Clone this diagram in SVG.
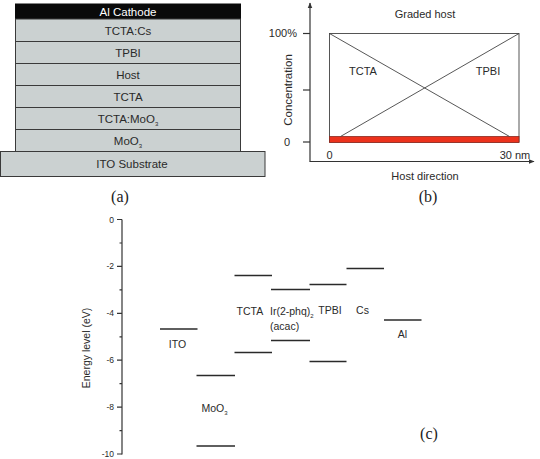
<svg xmlns="http://www.w3.org/2000/svg" width="540" height="459" viewBox="0 0 540 459">
<style>
text{font-family:"Liberation Sans",Arial,sans-serif;fill:#2a2a2a}
.lay{fill:#cbd1d1;stroke:#3a3a3a;stroke-width:1}
.lt{font-size:11.5px;text-anchor:middle}
.cap{font-family:"Liberation Serif","Times New Roman",serif;font-size:16px;text-anchor:middle;fill:#222}
.ax{stroke:#333;stroke-width:1.2;fill:none}
.thin{stroke:#444;stroke-width:0.9;fill:none}
.bt{font-size:11px}
.lvl{stroke:#2a2a2a;stroke-width:1.6}
.el{font-size:10.5px}
.tk{font-size:8.5px;text-anchor:end}
.sub{font-size:6px}
</style>
<defs>
<marker id="arr" viewBox="0 0 10 10" refX="9" refY="5" markerWidth="6" markerHeight="6" orient="auto" markerUnits="userSpaceOnUse">
<path d="M0,1 L10,5 L0,9 z" fill="#333"/>
</marker>
</defs>
<rect width="540" height="459" fill="#ffffff"/>

<!-- (a) device stack -->
<g id="al-cathode"><rect x="15.5" y="4" width="225" height="15" fill="#0a0a0a" stroke="#0a0a0a"/><text class="lt" x="128" y="15.8" style="fill:#fff">Al Cathode</text></g>
<g id="tcta-cs"><rect class="lay" x="15.5" y="19" width="225" height="22.5"/><text class="lt" x="128" y="34.5">TCTA:Cs</text></g>
<g id="tpbi-layer"><rect class="lay" x="15.5" y="41.5" width="225" height="22"/><text class="lt" x="128" y="56.5">TPBI</text></g>
<g id="host-layer"><rect class="lay" x="15.5" y="63.5" width="225" height="22"/><text class="lt" x="128" y="78.5">Host</text></g>
<g id="tcta-layer"><rect class="lay" x="15.5" y="85.5" width="225" height="22"/><text class="lt" x="128" y="100.5">TCTA</text></g>
<g id="tcta-moo3"><rect class="lay" x="15.5" y="107.5" width="225" height="22"/><text class="lt" x="128" y="122.5">TCTA:MoO<tspan class="sub" dy="3">3</tspan></text></g>
<g id="moo3-layer"><rect class="lay" x="15.5" y="129.5" width="225" height="22"/><text class="lt" x="128" y="144.5">MoO<tspan class="sub" dy="3">3</tspan></text></g>
<g id="ito-substrate"><rect class="lay" x="0.5" y="151.5" width="264.5" height="25"/><text class="lt" x="132" y="168">ITO Substrate</text></g>
<text class="cap" x="120" y="202">(a)</text>

<!-- (b) graded host -->
<g id="graded-host">
<line class="ax" x1="310" y1="161.5" x2="310" y2="3" marker-end="url(#arr)"/>
<line class="ax" x1="309.5" y1="161.5" x2="534" y2="161.5" marker-end="url(#arr)"/>
<line class="ax" x1="303" y1="33.5" x2="310" y2="33.5"/>
<line class="ax" x1="303" y1="90" x2="310" y2="90"/>
<line class="ax" x1="303" y1="142" x2="310" y2="142"/>
<rect x="329.5" y="33.5" width="189.5" height="108.5" class="thin"/>
<rect x="329.5" y="136.5" width="189.5" height="6" fill="#ec321c" stroke="#8a2a20" stroke-width="0.8"/>
<text class="bt" x="425" y="18" text-anchor="middle">Graded host</text>
<text class="bt" x="297" y="37" text-anchor="end">100%</text>
<text class="bt" x="287" y="146" text-anchor="middle">0</text>
<text class="bt" x="363" y="74.5" text-anchor="middle">TCTA</text>
<text class="bt" x="488" y="74.5" text-anchor="middle">TPBI</text>
<text class="bt" x="329.5" y="159" text-anchor="middle">0</text>
<text class="bt" x="515" y="159" text-anchor="middle">30 nm</text>
<text class="bt" x="425" y="180" text-anchor="middle">Host direction</text>
<text x="292" y="90" text-anchor="middle" transform="rotate(-90 292 90)" style="font-size:11.5px">Concentration</text>
</g>
<g id="connectors">
<line class="thin" x1="329.5" y1="33.5" x2="509.5" y2="136.5"/>
<line class="thin" x1="340.5" y1="136.5" x2="519" y2="33.5"/>
</g>
<text class="cap" x="428" y="202">(b)</text>

<!-- (c) energy levels -->
<g id="energy-axis">
<line class="ax" x1="122" y1="219.5" x2="122" y2="454.5"/>
<path class="ax" d="M117,219.5H122M117,266.4H122M117,313.3H122M117,360.2H122M117,407.1H122M117,454H122"/>
<path class="ax" d="M119.5,243H122M119.5,289.9H122M119.5,336.8H122M119.5,383.7H122M119.5,430.6H122"/>
<text class="tk" x="114" y="222.5">0</text>
<text class="tk" x="114" y="269.4">-2</text>
<text class="tk" x="114" y="316.3">-4</text>
<text class="tk" x="114" y="363.2">-6</text>
<text class="tk" x="114" y="410.1">-8</text>
<text class="tk" x="114" y="457">-10</text>
<text x="90" y="348" text-anchor="middle" transform="rotate(-90 90 348)" style="font-size:10.5px">Energy level (eV)</text>
</g>
<g id="ito-level"><line class="lvl" x1="160" y1="329" x2="197.5" y2="329"/><text class="el" x="177.5" y="347.5" text-anchor="middle">ITO</text></g>
<g id="moo3-level"><line class="lvl" x1="196.5" y1="375.5" x2="235" y2="375.5"/><line class="lvl" x1="196.5" y1="446" x2="235" y2="446"/><text class="el" x="201.5" y="411.5">MoO<tspan class="sub" dy="3">3</tspan></text></g>
<g id="tcta-level"><line class="lvl" x1="234.5" y1="275.5" x2="272" y2="275.5"/><line class="lvl" x1="234.5" y1="352.5" x2="272" y2="352.5"/><text class="el" x="236.5" y="314.5">TCTA</text></g>
<g id="ir-level"><line class="lvl" x1="271" y1="289.5" x2="310" y2="289.5"/><line class="lvl" x1="271" y1="340.5" x2="310" y2="340.5"/><text class="el" x="270" y="314.5">Ir(2-phq)<tspan class="sub" dy="3">2</tspan></text><text class="el" x="270" y="329.5">(acac)</text></g>
<g id="tpbi-level"><line class="lvl" x1="309.5" y1="284.5" x2="346.5" y2="284.5"/><line class="lvl" x1="309.5" y1="361.5" x2="346.5" y2="361.5"/><text class="el" x="330" y="314" text-anchor="middle">TPBI</text></g>
<g id="cs-level"><line class="lvl" x1="346.5" y1="268.5" x2="384" y2="268.5"/><text class="el" x="362.5" y="314" text-anchor="middle">Cs</text></g>
<g id="al-level"><line class="lvl" x1="384" y1="320" x2="421.5" y2="320"/><text class="el" x="402.5" y="338" text-anchor="middle">Al</text></g>
<text class="cap" x="429" y="439">(c)</text>
</svg>
